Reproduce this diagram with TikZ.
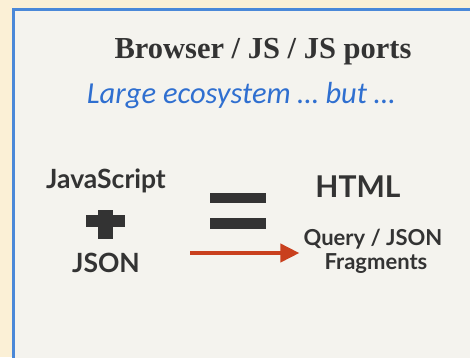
\documentclass[tikz,border=0pt]{standalone}
\usepackage{fontspec}
\setmainfont{Liberation Serif}
\newfontfamily\bodyfont{Lato}
\newfontfamily\noteFont{Carlito}
\usetikzlibrary{arrows.meta,positioning}
\definecolor{creambg}{HTML}{FBF0D6}
\definecolor{panelbg}{HTML}{F4F3EE}
\definecolor{panelline}{HTML}{4A88D8}
\definecolor{inkgray}{HTML}{333333}
\definecolor{noteblue}{HTML}{2F6FD0}
\definecolor{arrowred}{HTML}{C9401E}

\begin{document}
\begin{tikzpicture}[x=1pt, y=-1pt,
    word/.style={font=\bodyfont\bfseries\fontsize{26.5}{30}\selectfont, text=inkgray, inner sep=0pt, anchor=base},
    small/.style={font=\bodyfont\bfseries\fontsize{22}{26}\selectfont, text=inkgray, inner sep=0pt, anchor=base},
    bar/.style={fill=inkgray, draw=none},
    arr/.style={-{Triangle[length=19pt, width=18pt]}, line width=4pt, arrowred}
]
% background and panel
\fill[creambg] (0,0) rectangle (470,357);
\useasboundingbox (0,0) rectangle (470,357);
\fill[panelbg, draw=panelline, line width=3pt] (13.5,9.5) rectangle (480,370);

% headings
\node[font=\bfseries\fontsize{30.5}{34}\selectfont, text=inkgray, inner sep=0pt, anchor=base] (title) at (263,58) {Browser / JS / JS ports};
\node[font=\noteFont\itshape\fontsize{30.5}{34}\selectfont, text=noteblue, inner sep=0pt, anchor=base] (note) at (241,103) {Large ecosystem \dots\ but \dots};

% left side
\node[word] (js) at (106,188) {JavaScript};
\fill[bar] (98,210) rectangle (113,239);
\fill[bar] (86,215) rectangle (125,227);
\coordinate (plus) at (105.5,221);
\node[word] (json) at (106,272) {JSON};

% equals sign
\fill[bar] (210,193) rectangle (266,203);
\fill[bar] (210,218) rectangle (266,229);

% right side
\node[word, font=\bodyfont\bfseries\fontsize{30}{34}\selectfont] (html) at (358,197) {HTML};
\node[small] (query) at (373,245) {Query / JSON};
\node[small] (frag) at (376,269) {Fragments};

\coordinate (start) at (190,253);
\draw[arr, shorten >=4pt] (start) -- (query.west |- start);
\end{tikzpicture}
\end{document}
